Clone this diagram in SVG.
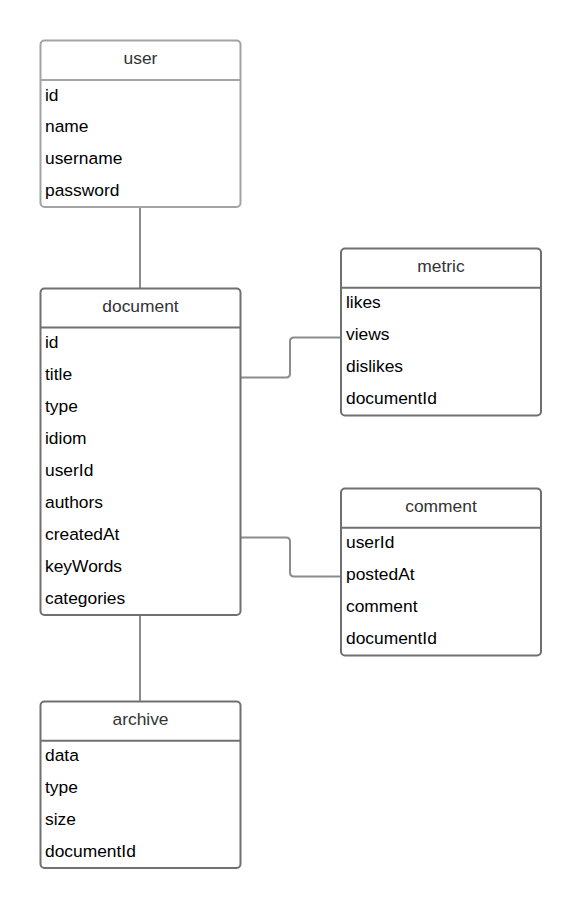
<svg xmlns="http://www.w3.org/2000/svg" width="581" height="909" viewBox="0 0 581 909">
<style>
.box{fill:#fff;stroke:#707070;stroke-width:2}
.light{stroke:#a3a3a3}
.hd{stroke:#707070;stroke-width:2}
.hdl{stroke:#a3a3a3;stroke-width:2}
.title{font-family:"Liberation Sans",Arial,sans-serif;font-size:17.4px;fill:#333;text-anchor:middle}
.f{font-family:"Liberation Sans",Arial,sans-serif;font-size:17.4px;fill:#000}
.c{fill:none;stroke:#8c8c8c;stroke-width:2}
</style>
<rect width="581" height="909" fill="#fff"/>
<g id="connectors">
<line class="c" x1="140" y1="207" x2="140" y2="288"/>
<line class="c" x1="140" y1="615" x2="140" y2="701"/>
<path class="c" d="M241,377.5 H286 Q290,377.5 290,373.5 V341.5 Q290,337.5 294,337.5 H341"/>
<path class="c" d="M241,537.5 H286 Q290,537.5 290,541.5 V572.5 Q290,576.5 294,576.5 H341"/>
</g>
<g id="user">
<rect class="box light" x="40.5" y="40.5" width="200" height="166.5" rx="4"/>
<line class="hdl" x1="40.5" y1="80" x2="240.5" y2="80"/>
<text class="title" x="140.5" y="64">user</text>
<text class="f" x="45" y="100.5">id</text>
<text class="f" x="45" y="132.2">name</text>
<text class="f" x="45" y="164">username</text>
<text class="f" x="45" y="195.7">password</text>
</g>
<g id="document">
<rect class="box" x="40.5" y="288.5" width="200" height="326.5" rx="4"/>
<line class="hd" x1="40.5" y1="327.5" x2="240.5" y2="327.5"/>
<text class="title" x="140.5" y="312">document</text>
<text class="f" x="45" y="348">id</text>
<text class="f" x="45" y="380">title</text>
<text class="f" x="45" y="412">type</text>
<text class="f" x="45" y="444">idiom</text>
<text class="f" x="45" y="476">userId</text>
<text class="f" x="45" y="508">authors</text>
<text class="f" x="45" y="540">createdAt</text>
<text class="f" x="45" y="572">keyWords</text>
<text class="f" x="45" y="604">categories</text>
</g>
<g id="metric">
<rect class="box" x="341" y="248.5" width="200" height="167" rx="4"/>
<line class="hd" x1="341" y1="287.7" x2="541" y2="287.7"/>
<text class="title" x="441" y="272">metric</text>
<text class="f" x="346" y="308">likes</text>
<text class="f" x="346" y="340">views</text>
<text class="f" x="346" y="372">dislikes</text>
<text class="f" x="346" y="403.5">documentId</text>
</g>
<g id="comment">
<rect class="box" x="341" y="488.5" width="200" height="167" rx="4"/>
<line class="hd" x1="341" y1="527.7" x2="541" y2="527.7"/>
<text class="title" x="441" y="512">comment</text>
<text class="f" x="346" y="548">userId</text>
<text class="f" x="346" y="580">postedAt</text>
<text class="f" x="346" y="612">comment</text>
<text class="f" x="346" y="643.5">documentId</text>
</g>
<g id="archive">
<rect class="box" x="40.5" y="701.5" width="200" height="166.5" rx="4"/>
<line class="hd" x1="40.5" y1="740.7" x2="240.5" y2="740.7"/>
<text class="title" x="140.5" y="725">archive</text>
<text class="f" x="45" y="761">data</text>
<text class="f" x="45" y="793">type</text>
<text class="f" x="45" y="825">size</text>
<text class="f" x="45" y="857">documentId</text>
</g>
</svg>
